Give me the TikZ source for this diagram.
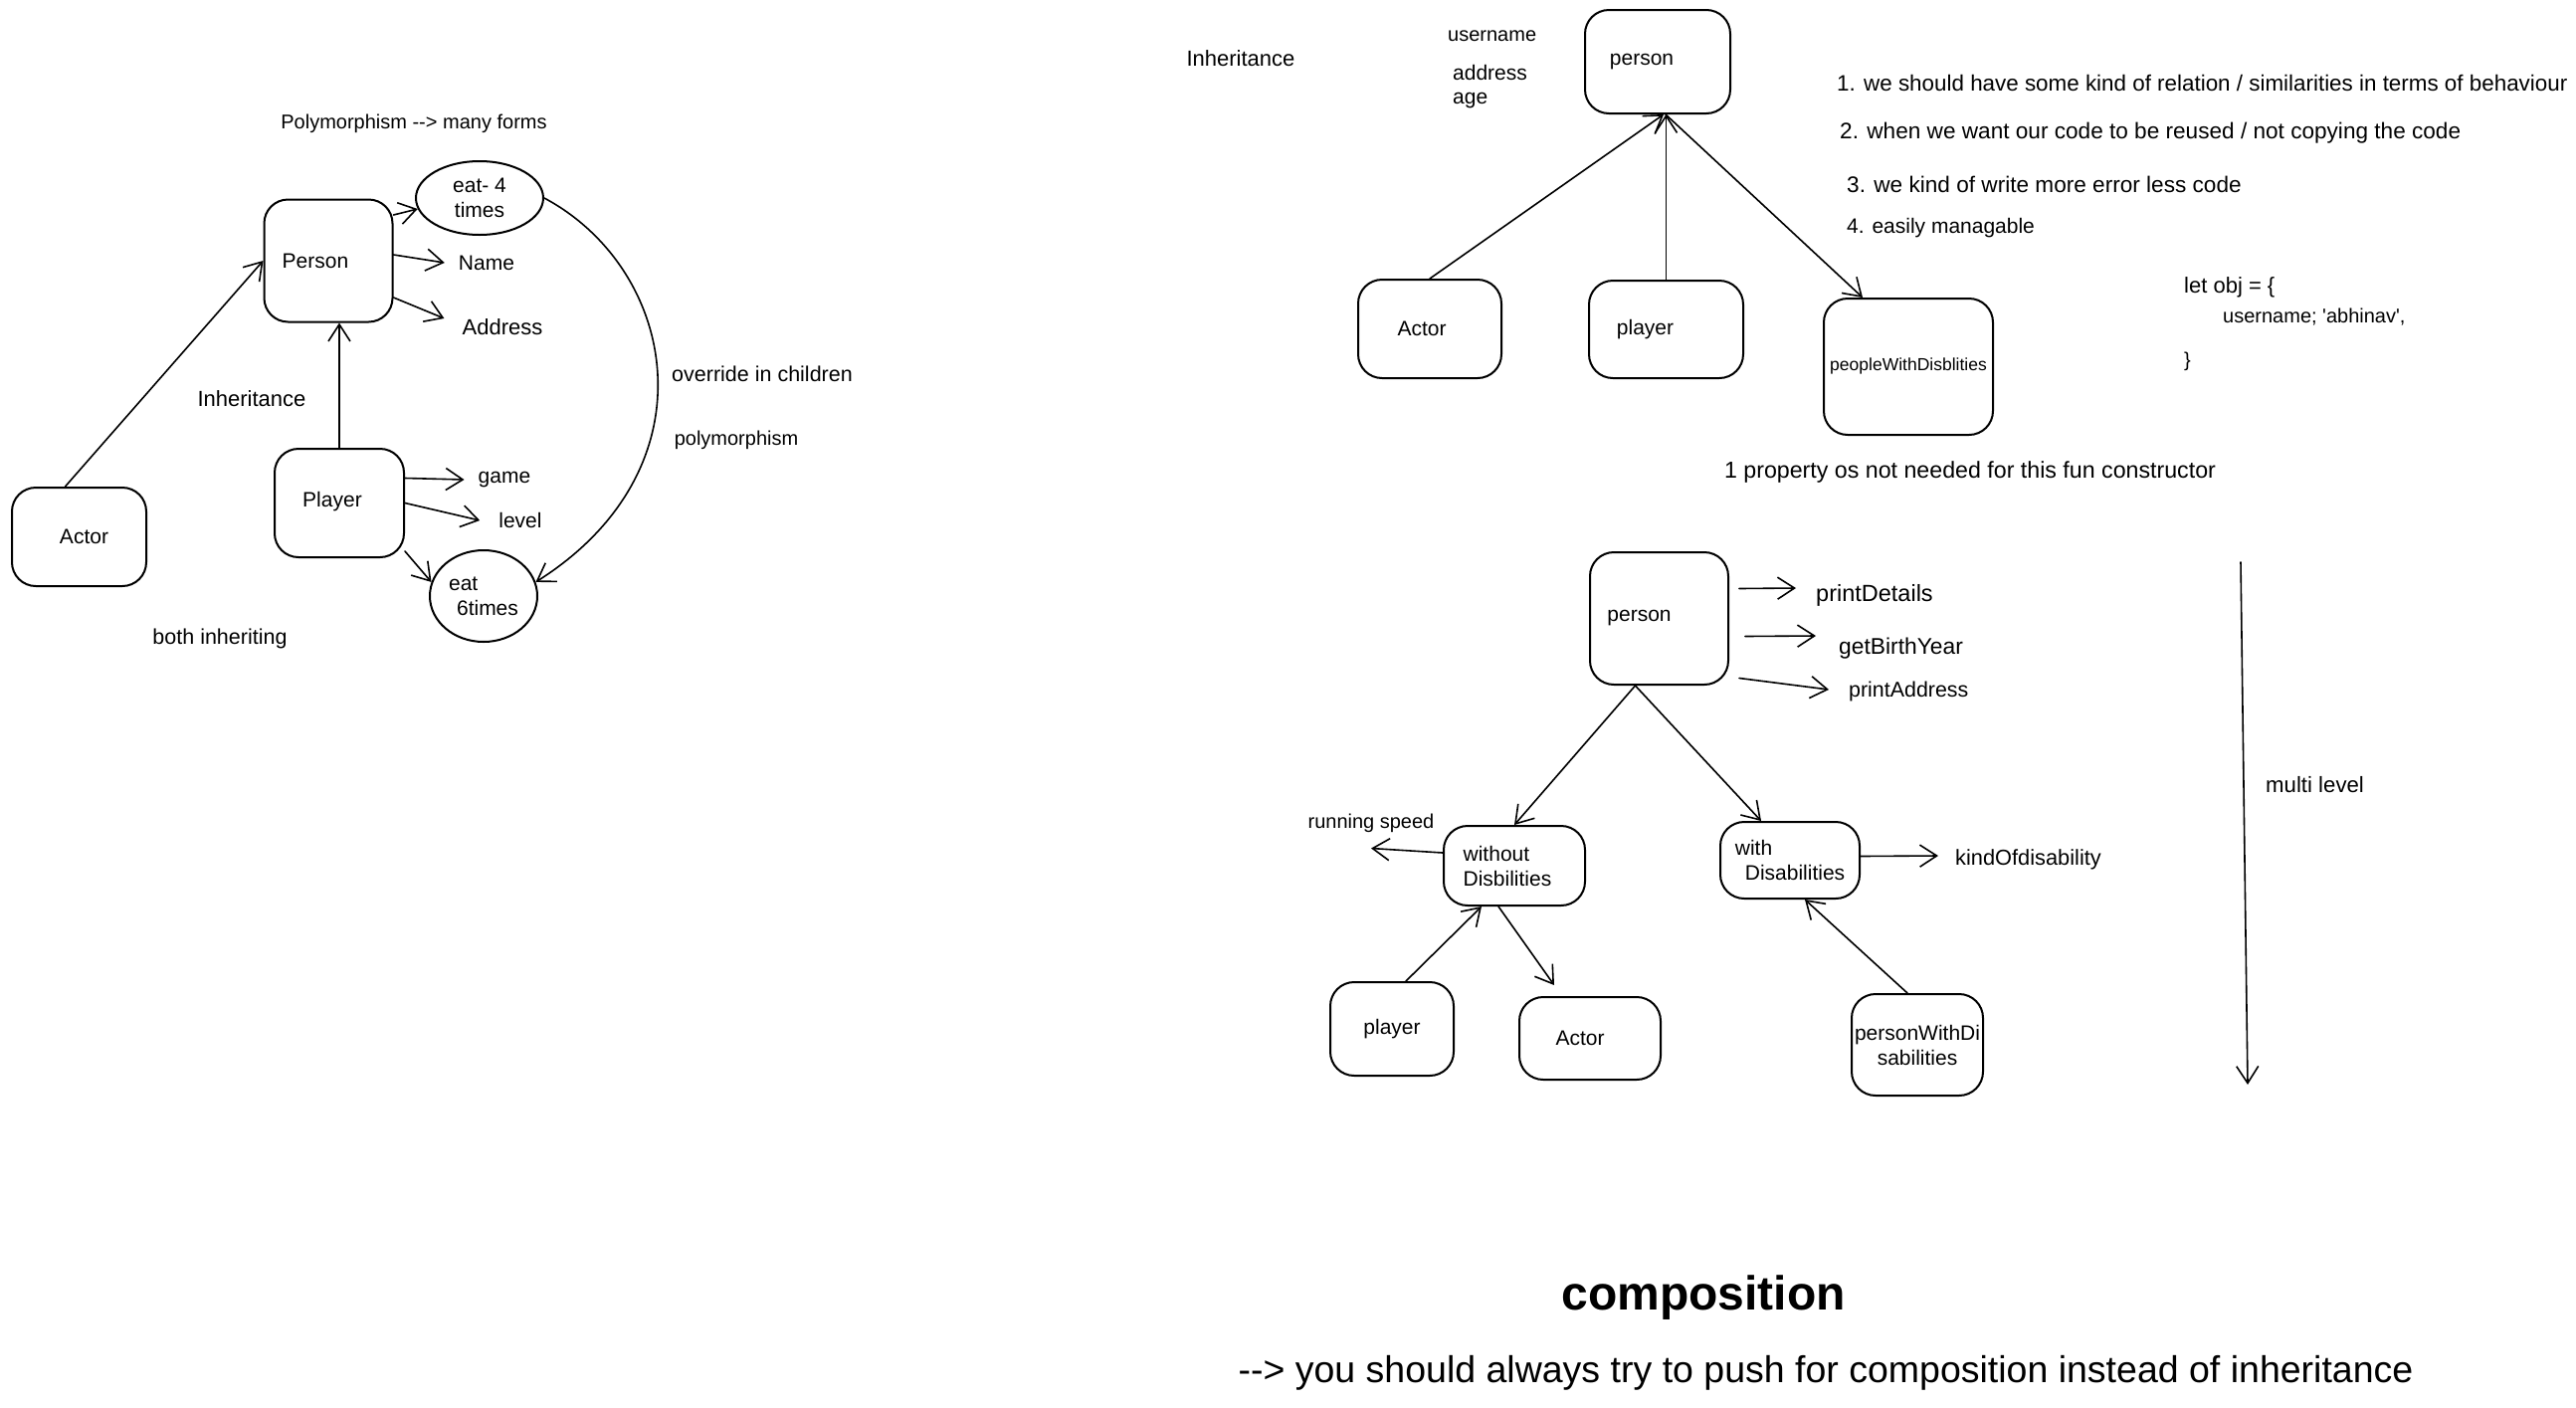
\documentclass[tikz,border=0pt]{standalone}
\usepackage{fontspec}
\setmainfont{Liberation Sans}[Ligatures=TeXOff]
\usetikzlibrary{arrows.meta,shapes.geometric}
\newcommand{\fsA}{\fontsize{21}{25}\selectfont}
\newcommand{\fsS}{\fontsize{17.5}{21}\selectfont}
\newcommand{\fz}[1]{\fontsize{#1}{#1}\selectfont}
\begin{document}
\begin{tikzpicture}[x=1pt,y=-1pt,
  box/.style={draw, line width=2pt, rounded corners=24pt, inner sep=2pt, font=\fsA, align=center},
  ell/.style={draw, ellipse, line width=2pt, inner sep=0pt, font=\fsA, align=center},
  lbl/.style={inner sep=2pt, font=\fsA},
  arr/.style={line width=1.6pt, -{Straight Barb[length=17pt,width=22pt,line width=1.6pt]}},
  line join=round, line cap=round]
\useasboundingbox (0,0) rectangle (2589,1414);
\fill[white] (0,0) rectangle (2589,1414);

% ---------------- left part ----------------
\node[lbl, font=\fz{20}] (polytitle) at (416,124) {Polymorphism --> many forms};
\node[box, minimum width=129pt, minimum height=123pt] (Lperson) at (330,262) {Person\hspace*{26pt}};
\node[ell, minimum width=128pt, minimum height=74pt] (eat4) at (482,199) {eat- 4\\times};
\node[lbl] (Lname) at (489,264) {Name};
\node[lbl, font=\fz{22}] (Laddr) at (505,329) {Address};
\node[box, minimum width=135pt, minimum height=99pt] (Lactor) at (79.5,539.5) {\hspace*{10pt}Actor};
\node[box, minimum width=130pt, minimum height=109pt] (Lplayer) at (341,505.5) {\raisebox{7pt}{Player}\hspace*{14pt}};
\node[ell, minimum width=108pt, minimum height=92pt, align=left] (eat6) at (486,599) {eat\\\hspace{8pt}6times};
\node[lbl] (Lgame) at (507,482) {game};
\node[lbl] (Llevel) at (523,523) {level};
\node[lbl, font=\fz{22}] (Linh) at (253,401) {Inheritance};
\node[lbl, font=\fz{21.5}] (override) at (766,376) {override in children};
\node[lbl, font=\fz{20}] (poly) at (740,442) {polymorphism};
\node[lbl, font=\fz{21.5}] (both) at (221,642) {both inheriting};

\draw[arr] ([xshift=-14pt]Lactor.north) -- (Lperson.west);
\draw[arr] (Lplayer.north) -- (Lplayer.north |- Lperson.south);
\draw[arr] ([yshift=46pt]Lperson.east) -- (eat4.190);
\draw[arr] ([yshift=6pt]Lperson.east) -- ([xshift=-12pt]Lname.west);
\draw[arr] ([yshift=-37pt]Lperson.east) -- ([xshift=-16pt,yshift=9pt]Laddr.west);
\draw[arr] ([yshift=25pt]Lplayer.east) -- ([xshift=-12pt]Lgame.west);
\draw[arr] (Lplayer.east) -- ([xshift=-17pt]Llevel.west);
\draw[arr] ([yshift=7pt]Lplayer.south east) -- (eat6.165);
\draw[arr] (eat4.east) .. controls (680,270) and (720,470) .. (eat6.15);

% ---------------- right top ----------------
\node[lbl, font=\fz{22}] (Rinh) at (1247,59) {Inheritance};
\node[lbl, anchor=west, font=\fz{20}] (uname) at (1453,36) {username};
\node[lbl, anchor=west] (uaddr) at (1458,73) {address};
\node[lbl, anchor=west] (uage) at (1458,101) {age};
\node[box, minimum width=146pt, minimum height=104pt] (Tperson) at (1666,62) {person\hspace*{32pt}};
\node[box, minimum width=144pt, minimum height=99pt] (Tactor) at (1437,330.5) {Actor\hspace*{16pt}};
\node[box, minimum width=155pt, minimum height=98pt] (Tplayer) at (1674.5,331) {player\hspace*{42pt}};
\node[box, minimum width=170pt, minimum height=137pt, font=\fsS] (Tpwd) at (1918,368.5) {\raisebox{4pt}{peopleWithDisblities}};

\draw[arr] (Tactor.north) -- ([xshift=6pt]Tperson.south);
\draw[arr] (Tplayer.north) -- (Tplayer.north |- Tperson.south);
\draw[arr] ([xshift=8pt]Tperson.south) -- ([xshift=-46pt]Tpwd.north);

\node[lbl, anchor=west, font=\fz{22.4}] (li1) at (1844,83) {1. we should have some kind of relation / similarities in terms of behaviour};
\node[lbl, anchor=west, font=\fz{22.6}] (li2) at (1847,134) {2. when we want our code to be reused / not copying the code};
\node[lbl, anchor=west, font=\fz{22.6}] (li3) at (1854,185) {3. we kind of write more error less code};
\node[lbl, anchor=west] (li4) at (1854,229) {4. easily managable};

\node[lbl, anchor=west, font=\fz{22}] (code1) at (2193,289) {let obj = \{};
\node[lbl, anchor=west, font=\fz{20}] (code2) at (2232,319) {username; 'abhinav',};
\node[lbl, anchor=west, font=\fz{20}] (code3) at (2193,363) {\}};

\node[lbl, font=\fz{23.2}] (prop) at (1980,474) {1 property os not needed for this fun constructor};

% ---------------- right bottom ----------------
\node[box, minimum width=139pt, minimum height=133pt] (Bperson) at (1667.5,621.5) {person\hspace*{40pt}};
\node[lbl, anchor=west, font=\fz{23.5}] (pd) at (1823,598) {printDetails};
\node[lbl, anchor=west, font=\fz{22.8}] (gb) at (1846,652) {getBirthYear};
\node[lbl, anchor=west, font=\fz{21.4}] (pa) at (1856,695) {printAddress};
\draw[arr] ([xshift=10pt,yshift=30pt]Bperson.east) -- ([xshift=-18pt,yshift=7pt]pd.west);
\draw[arr] ([xshift=16pt,yshift=-18pt]Bperson.east) -- ([xshift=-21pt,yshift=13pt]gb.west);
\draw[arr] ([xshift=10pt,yshift=-60pt]Bperson.east) -- ([xshift=-18pt,yshift=2pt]pa.west);

\node[box, minimum width=142pt, minimum height=80pt, align=left] (wo) at (1522,870) {without\\Disbilities\hspace*{14pt}};
\node[box, minimum width=140pt, minimum height=77pt, align=left] (wi) at (1799,864.5) {with\\\hspace{10pt}Disabilities};
\draw[arr] ([xshift=-24pt]Bperson.south) -- (wo.north);
\draw[arr] ([xshift=-24pt]Bperson.south) -- ([xshift=-29pt]wi.north);

\node[lbl, font=\fz{20}] (rs) at (1378,827) {running speed};
\draw[arr] ([yshift=13pt]wo.west) -- ([yshift=-14pt]rs.south);
\node[lbl, anchor=west, font=\fz{21.8}] (kind) at (1963,864) {kindOfdisability};
\draw[arr] ([yshift=4pt]wi.east) -- ([xshift=-15pt,yshift=4pt]kind.west);

\node[box, minimum width=124pt, minimum height=94pt] (Bplayer) at (1399,1034) {player};
\node[box, minimum width=142pt, minimum height=83pt] (Bactor) at (1598,1043.5) {Actor\hspace*{20pt}};
\node[box, minimum width=132pt, minimum height=102pt] (pwd2) at (1927,1050) {personWithDi\\sabilities};
\draw[arr] ([xshift=14pt]Bplayer.north) -- ([xshift=-33pt]wo.south);
\draw[arr] ([xshift=-16pt]wo.south) -- ([xshift=-36pt,yshift=11pt]Bactor.north);
\draw[arr] ([xshift=-10pt]pwd2.north) -- ([xshift=15pt]wi.south);

\coordinate (ml1) at (2252,565);
\coordinate (ml2) at (2259,1090);
\draw[arr] (ml1) -- (ml2);
\node[lbl, anchor=west, font=\fz{22.2}] (mltxt) at (2275,789) {multi level};

\node[inner sep=2pt, font=\fontsize{48}{56}\selectfont\bfseries] (comp) at (1712,1304) {composition};
\node[inner sep=2pt, font=\fz{37.5}] (push) at (1835,1380) {--> you should always try to push for composition instead of inheritance};
\end{tikzpicture}
\end{document}
